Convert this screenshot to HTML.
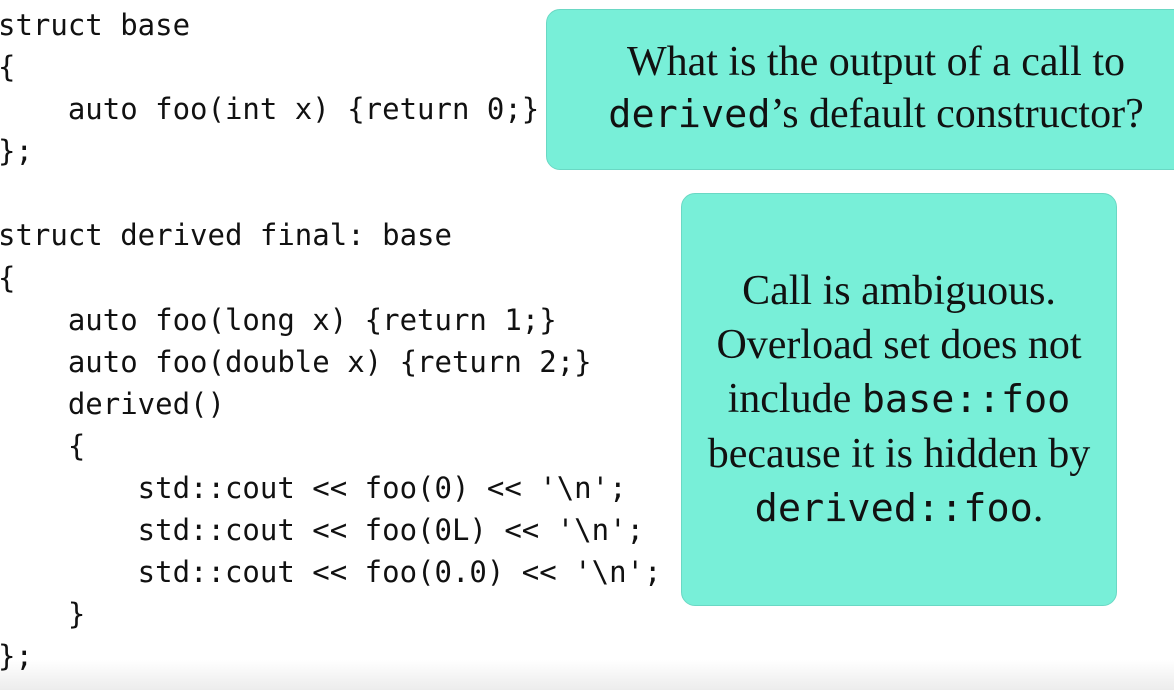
<!DOCTYPE html>
<html><head><meta charset="utf-8"><style>
html,body{margin:0;padding:0}
body{width:1174px;height:690px;overflow:hidden;background:#fff;position:relative;
background:linear-gradient(#fff 0,#fff 660px,#ececec 690px);}
.c{position:absolute;left:-2px;font-family:"DejaVu Sans Mono","Liberation Mono",monospace;font-size:29px;line-height:42.1px;white-space:pre;color:#111;}
.box{position:absolute;background:#78efd8;border:1px solid #6ad8c4;border-radius:14px;}
.t{position:absolute;font-family:"Liberation Serif",serif;color:#111;text-align:center;white-space:nowrap}
.m{font-family:"DejaVu Sans Mono",monospace;font-size:38.5px}
</style></head><body>
<div class="c" style="top:4px">struct base
{
    auto foo(int x) {return 0;}
};

struct derived final: base
{
    auto foo(long x) {return 1;}
    auto foo(double x) {return 2;}
    derived()
    {
        std::cout &lt;&lt; foo(0) &lt;&lt; '\n';
        std::cout &lt;&lt; foo(0L) &lt;&lt; '\n';
        std::cout &lt;&lt; foo(0.0) &lt;&lt; '\n';
    }
};</div>
<div class="box" style="left:546px;top:9px;width:640px;height:159px"></div>
<div class="t" style="left:546px;top:36px;width:660px;font-size:42px;line-height:52px">What is the output of a call to<br><span class="m">derived</span>’s default constructor?</div>
<div class="box" style="left:681px;top:193px;width:434px;height:411px"></div>
<div class="t" style="left:681px;top:264px;width:436px;font-size:42px;line-height:54px">Call is ambiguous.<br>Overload set does not<br>include <span class="m">base::foo</span><br>because it is hidden by<br><span class="m">derived::foo</span>.</div>
</body></html>
